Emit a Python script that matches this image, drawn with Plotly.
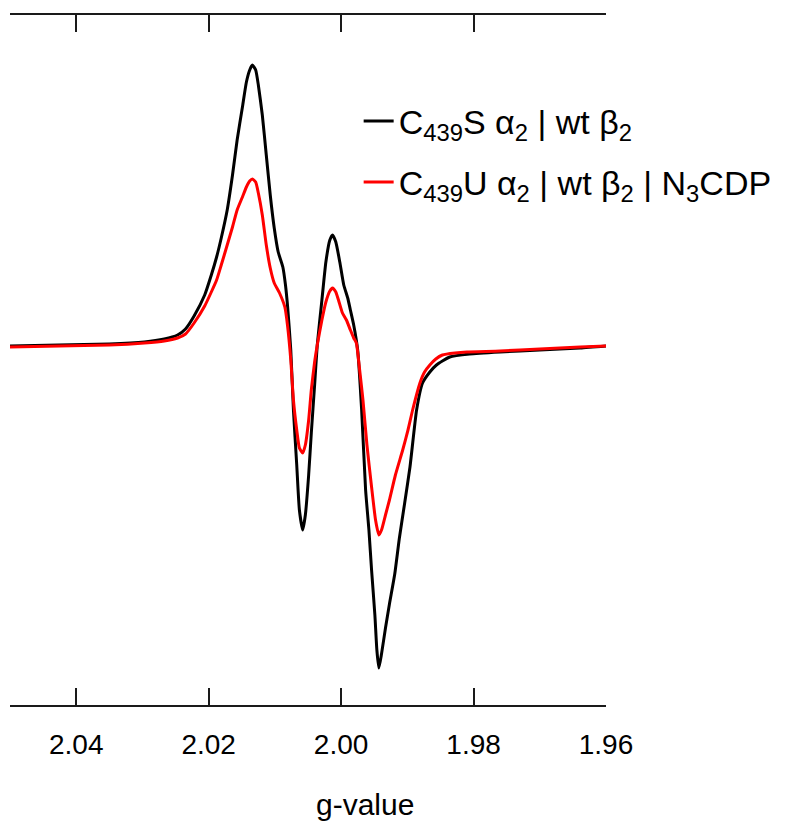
import plotly.graph_objects as go

# g-values (x) and intensities (arbitrary units)
g_black = [2.0500, 2.0426, 2.0350, 2.0297, 2.0267, 2.0247, 2.0235, 2.0222, 2.0206, 2.0196,
           2.0188, 2.0181, 2.0172, 2.0164, 2.0157, 2.0149, 2.0143, 2.0138, 2.0134, 2.0129,
           2.0125, 2.0119, 2.0113, 2.0107, 2.0101, 2.0095, 2.0088, 2.0084, 2.0081, 2.0076,
           2.0072, 2.0067, 2.0063, 2.0058, 2.0054, 2.0049, 2.0045, 2.0040, 2.0036, 2.0029,
           2.0023, 2.0017, 2.0013, 2.0008, 2.0002, 1.9996, 1.9990, 1.9986, 1.9981, 1.9975,
           1.9969, 1.9963, 1.9958, 1.9954, 1.9949, 1.9946, 1.9943, 1.9939, 1.9933, 1.9927,
           1.9919, 1.9912, 1.9904, 1.9896, 1.9886, 1.9877, 1.9866, 1.9856, 1.9836, 1.9806,
           1.9760, 1.9700, 1.9639, 1.9600]
i_black = [0, 1, 2, 4, 7, 11, 17, 30, 51, 71,
           89, 108, 136, 171, 206, 239, 264, 276, 281, 276,
           261, 231, 191, 151, 118, 94, 79, 61, 41, -4,
           -64, -119, -164, -184, -169, -129, -87, -39, 1, 46,
           84, 106, 111, 104, 84, 61, 48, 36, 21, -4,
           -64, -144, -184, -224, -269, -304, -322, -308, -282, -258,
           -228, -192, -157, -121, -64, -37, -26, -19, -11, -8,
           -6, -4, -2, 0]

g_red = [2.0500, 2.0426, 2.0350, 2.0297, 2.0267, 2.0247, 2.0235, 2.0222, 2.0206, 2.0196,
         2.0188, 2.0181, 2.0172, 2.0164, 2.0157, 2.0149, 2.0143, 2.0138, 2.0134, 2.0129,
         2.0125, 2.0119, 2.0113, 2.0107, 2.0101, 2.0093, 2.0085, 2.0081, 2.0076, 2.0072,
         2.0067, 2.0063, 2.0058, 2.0054, 2.0049, 2.0045, 2.0040, 2.0036, 2.0029, 2.0023,
         2.0017, 2.0013, 2.0008, 2.0004, 1.9998, 1.9992, 1.9986, 1.9981, 1.9977, 1.9972,
         1.9967, 1.9961, 1.9954, 1.9948, 1.9943, 1.9939, 1.9933, 1.9927, 1.9918, 1.9907,
         1.9899, 1.9892, 1.9881, 1.9874, 1.9866, 1.9857, 1.9847, 1.9828, 1.9810, 1.9760,
         1.9700, 1.9639, 1.9600]
i_red = [-1, 0, 1, 3, 5, 8, 12, 23, 40, 54,
         66, 81, 101, 119, 136, 149, 159, 165, 167, 164,
         153, 131, 101, 78, 63, 53, 39, 21, -14, -54,
         -84, -102, -107, -99, -74, -44, -16, 1, 26, 44,
         55, 58, 54, 46, 33, 26, 16, 8, 3, -24,
         -54, -99, -141, -174, -189, -184, -169, -154, -129, -104,
         -84, -64, -37, -26, -19, -13, -9, -7, -6, -5,
         -3, -1, 0]

tick_vals = [2.04, 2.02, 2.00, 1.98, 1.96]
tick_text = ["2.04", "2.02", "2.00", "1.98", "1.96"]
name_black = "C<sub>439</sub>S α<sub>2</sub> | wt β<sub>2</sub>"
name_red = "C<sub>439</sub>U α<sub>2</sub> | wt β<sub>2</sub> | N<sub>3</sub>CDP"
x_title = "g-value"

FONT = "Liberation Sans, Arial, sans-serif"

fig = go.Figure()
fig.add_trace(go.Scatter(x=g_black, y=i_black, mode="lines", name=name_black,
                         legendgroup="a",
                         line=dict(color="#000000", width=3, shape="spline", smoothing=0.5)))
fig.add_trace(go.Scatter(x=g_red, y=i_red, mode="lines", name=name_red,
                         legendgroup="b",
                         line=dict(color="#ff0000", width=3, shape="spline", smoothing=0.5)))

fig.update_layout(
    width=788, height=830,
    margin=dict(l=2, r=190, t=7, b=133),
    paper_bgcolor="white", plot_bgcolor="white",
    font=dict(family=FONT, color="black", size=28),
    showlegend=True,
    legend=dict(x=0.585, y=0.888, xanchor="left", yanchor="top",
                font=dict(size=34, family=FONT), bgcolor="rgba(0,0,0,0)",
                tracegroupgap=14, traceorder="grouped", itemwidth=30),
    xaxis=dict(range=[2.05, 1.96], tickvals=tick_vals, ticktext=tick_text,
               showline=True, linecolor="#1a1a1a", linewidth=2, mirror="ticks",
               ticks="inside", ticklen=17, tickwidth=2, tickcolor="#1a1a1a",
               showgrid=False, zeroline=False, ticklabelstandoff=13,
               tickfont=dict(size=28, family=FONT)),
    yaxis=dict(range=[-359, 331], visible=False, showgrid=False, zeroline=False),
    annotations=[dict(text=x_title, x=0.5956, y=-0.171, xref="paper", yref="paper",
                      showarrow=False, font=dict(size=30, family=FONT))],
)
fig.write_html("out.html")
